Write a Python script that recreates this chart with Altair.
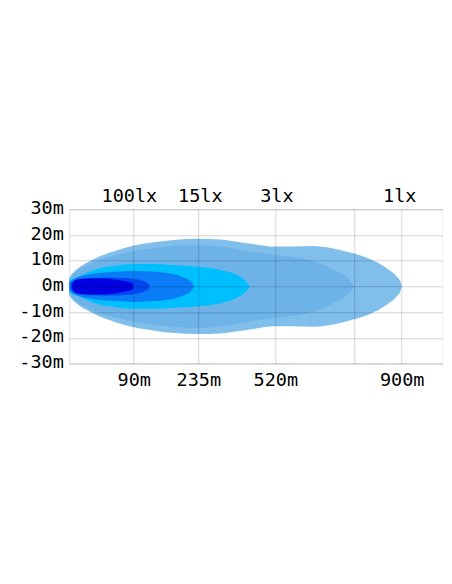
import altair as alt
import pandas as pd

# ---- data (distance in chart units 0-100 across the plot, half-width in metres) ----
x_1lx = [0, 0.5, 1.5, 4.66, 8.03, 12.24, 17.33, 23.22, 28, 34.55, 40.36, 44, 49.2, 55.09, 60, 65.27, 69, 72.5, 76.25, 80.53, 85, 87.68, 88.7, 89.02]
h_1lx = [3.2, 4.5, 6, 9.2, 11.6, 13.8, 15.9, 17.3, 18.1, 18.5, 18.3, 17.6, 16.5, 15.5, 15.5, 15.7, 15.2, 14.2, 12.8, 10.7, 7.1, 3.9, 1.8, 0]

x_3lx = [0, 0.5, 1.5, 4.66, 8.03, 12.24, 17.33, 23.22, 28, 34.55, 40, 48.39, 55, 59.11, 61.78, 67.14, 70, 72.5, 75, 76.25]
h_3lx = [2.9, 4.0, 5.4, 8.2, 10.3, 12, 13.8, 15, 15.8, 16.2, 15.5, 13.6, 12.3, 11.6, 11, 9, 7, 5.2, 2.5, 0]

x_15lx = [0, 0.5, 1.53, 2.68, 4.66, 8.03, 12.24, 17.33, 23.22, 28, 34.55, 40.36, 44.83, 47, 48.39]
h_15lx = [1.8, 2.7, 3.4, 3.9, 5.3, 7, 8, 8.7, 8.7, 8.3, 7.7, 6.5, 4.5, 2.5, 0]

x_30lx = [0, 0.5, 1.5, 4.66, 8.03, 12.24, 17.33, 23.22, 27, 30.53, 32.5, 33.48]
h_30lx = [1.5, 2.3, 3.1, 4.5, 5.2, 5.7, 6, 5.7, 5.0, 3.5, 2, 0]

x_60lx = [0.4, 1, 2, 5, 10, 15, 18, 20, 21, 21.61]
h_60lx = [1.2, 2, 2.8, 3.3, 3.5, 3.3, 2.8, 2, 1.3, 0]

x_100lx = [0.8, 1.2, 2, 4, 8, 12, 15, 17, 17.14]
h_100lx = [1, 2, 2.6, 3, 3.1, 2.7, 2, 1.1, 0]

layer_names = ["1lx", "3lx", "15lx", "30lx", "60lx", "100lx"]
layer_x = [x_1lx, x_3lx, x_15lx, x_30lx, x_60lx, x_100lx]
layer_h = [h_1lx, h_3lx, h_15lx, h_30lx, h_60lx, h_100lx]
layer_colors = ["#80bfec", "#6db3e8", "#00bfff", "#0a7cf5", "#0046f0", "#0000e0"]

tick_pos = [17.25, 34.55, 55.17, 76.25, 89.02]
tick_labels = ["90m", "235m", "520m", "", "900m"]

top_pos = [16.1, 35.1, 55.6, 88.5]
top_labels = ["100lx", "15lx", "3lx", "1lx"]

y_ticks = [-30, -20, -10, 0, 10, 20, 30]

FONT = "DejaVu Sans Mono"
FS = 18.5

label_expr = " : ".join(
    f"datum.value == {v} ? '{l}'" for v, l in zip(tick_pos, tick_labels)
) + " : ''"

x_axis = alt.Axis(
    values=tick_pos, labelExpr=label_expr, grid=True, ticks=False, domain=False,
    title=None, labelFont=FONT, labelFontSize=FS, labelColor="#000",
    labelPadding=7, gridColor="#000", gridOpacity=0.17, zindex=1,
)
y_axis = alt.Axis(
    values=y_ticks, labelExpr="datum.value + 'm'", grid=True, ticks=False,
    domain=False, title=None, labelFont=FONT, labelFontSize=FS, labelColor="#000",
    labelPadding=6, labelOffset=-2, gridColor="#000", gridOpacity=0.17, zindex=1,
)
x_scale = alt.Scale(domain=[0, 100], nice=False)
y_scale = alt.Scale(domain=[-30, 30], nice=False)

layers = []
for name, xs, hs, col in zip(layer_names, layer_x, layer_h, layer_colors):
    d = pd.DataFrame({"x": xs, "hi": hs, "lo": [-v for v in hs]})
    layers.append(
        alt.Chart(d)
        .mark_area(interpolate="monotone", color=col)
        .encode(
            x=alt.X("x:Q", scale=x_scale, axis=x_axis),
            y=alt.Y("hi:Q", scale=y_scale, axis=y_axis),
            y2=alt.Y2("lo:Q"),
        )
    )

top_df = pd.DataFrame({"x": top_pos, "label": top_labels})
top_text = (
    alt.Chart(top_df)
    .mark_text(font=FONT, fontSize=FS, color="#000", baseline="alphabetic", align="center", dy=-7.5)
    .encode(
        x=alt.X("x:Q", scale=x_scale, axis=x_axis),
        y=alt.value(0),
        text="label:N",
    )
)

chart = (
    alt.layer(*layers, top_text)
    .properties(
        width=373.4, height=154.3, autosize="none",
        padding={"left": 61.3, "top": 201.3, "right": 0, "bottom": 150},
    )
    .configure_view(stroke="#d4d4d4", strokeWidth=1)
    .configure(background="white")
)

chart.save("out.html", embed_options={"renderer": "svg", "actions": False})
